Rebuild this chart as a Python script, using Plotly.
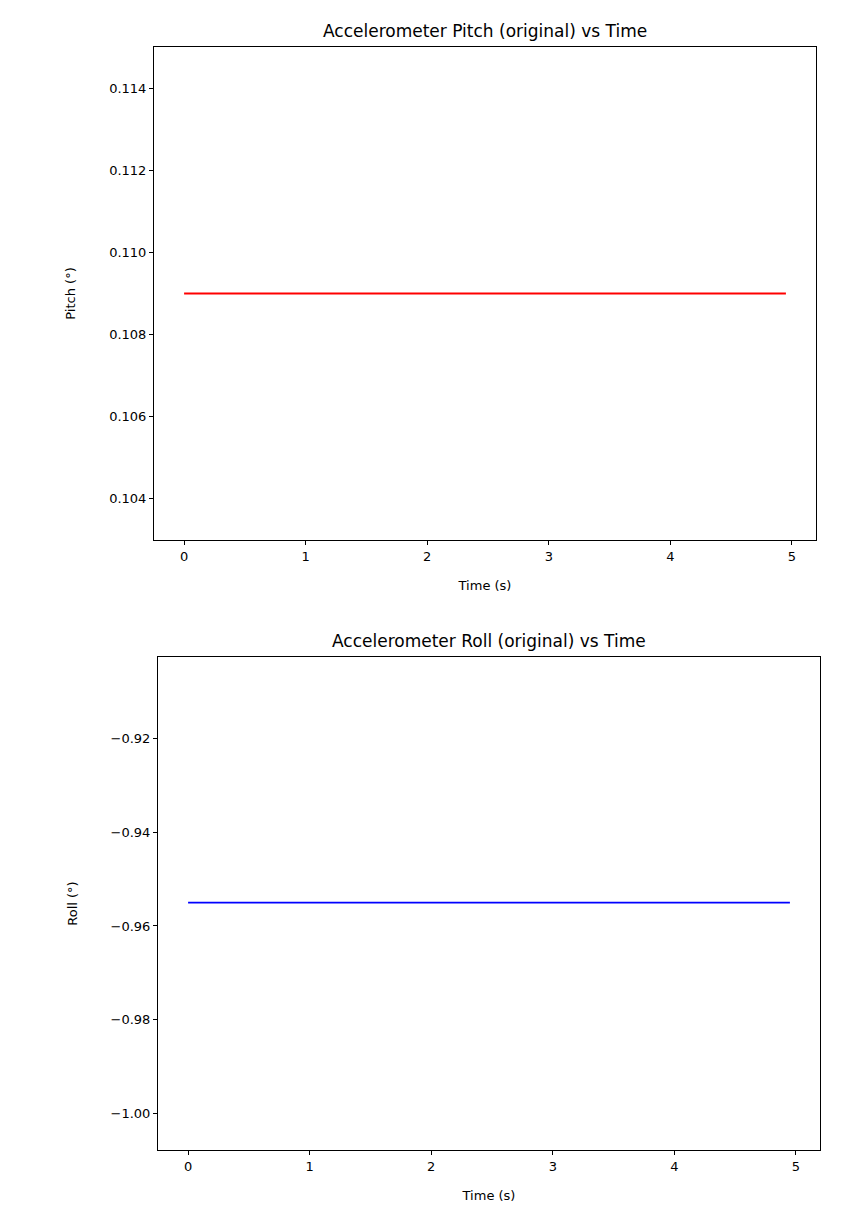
import plotly.graph_objects as go

# data
time_s = [0.0, 4.95]
pitch_deg = [0.109, 0.109]
roll_deg = [-0.955, -0.955]

pitch_ticks = [0.104, 0.106, 0.108, 0.110, 0.112, 0.114]
roll_ticks = [-1.00, -0.98, -0.96, -0.94, -0.92]
time_ticks = [0, 1, 2, 3, 4, 5]

W, H = 858, 1218
DX, DY = 7, 7  # page offset seen in the render
font = dict(family="DejaVu Sans", size=13, color="black")

fig = go.Figure()
fig.add_trace(go.Scatter(x=time_s, y=pitch_deg, mode="lines",
                         line=dict(color="red", width=1.8), xaxis="x", yaxis="y"))
fig.add_trace(go.Scatter(x=time_s, y=roll_deg, mode="lines",
                         line=dict(color="blue", width=1.8), xaxis="x2", yaxis="y2"))

axis_style = dict(showline=True, mirror=True, linecolor="black", linewidth=1,
                  ticks="outside", ticklen=4, tickcolor="black", showgrid=False,
                  zeroline=False, tickfont=font)


def px_x(v):
    return (v - DX) / W


def px_y(v):
    return 1 - (v - DY) / H


fig.update_layout(
    width=W, height=H, showlegend=False,
    paper_bgcolor="white", plot_bgcolor="white",
    margin=dict(l=0, r=0, t=0, b=0),
    font=font,
    xaxis=dict(domain=[px_x(153), px_x(815)], range=[-0.2475, 5.1975],
               tickvals=time_ticks, title=dict(text="Time (s)", font=font, standoff=18),
               anchor="y", **axis_style),
    yaxis=dict(domain=[px_y(539), px_y(46)], range=[0.103, 0.115],
               tickvals=pitch_ticks, tickformat=".3f",
               title=dict(text="Pitch (°)", font=font, standoff=30),
               anchor="x", **axis_style),
    xaxis2=dict(domain=[px_x(157), px_x(819)], range=[-0.2475, 5.1975],
                tickvals=time_ticks, title=dict(text="Time (s)", font=font, standoff=18),
                anchor="y2", **axis_style),
    yaxis2=dict(domain=[px_y(1149), px_y(656)], range=[-1.0079, -0.9025],
                tickvals=roll_ticks, tickformat=".2f",
                title=dict(text="Roll (°)", font=font, standoff=30),
                anchor="x2", **axis_style),
    annotations=[
        dict(text="Accelerometer Pitch (original) vs Time", x=(px_x(153) + px_x(815)) / 2,
             y=px_y(46), xref="paper", yref="paper", xanchor="center", yanchor="bottom",
             yshift=4, showarrow=False, font=dict(family="DejaVu Sans", size=17, color="black")),
        dict(text="Accelerometer Roll (original) vs Time", x=(px_x(157) + px_x(819)) / 2,
             y=px_y(656), xref="paper", yref="paper", xanchor="center", yanchor="bottom",
             yshift=4, showarrow=False, font=dict(family="DejaVu Sans", size=17, color="black")),
    ],
)

fig.write_html("out.html")
